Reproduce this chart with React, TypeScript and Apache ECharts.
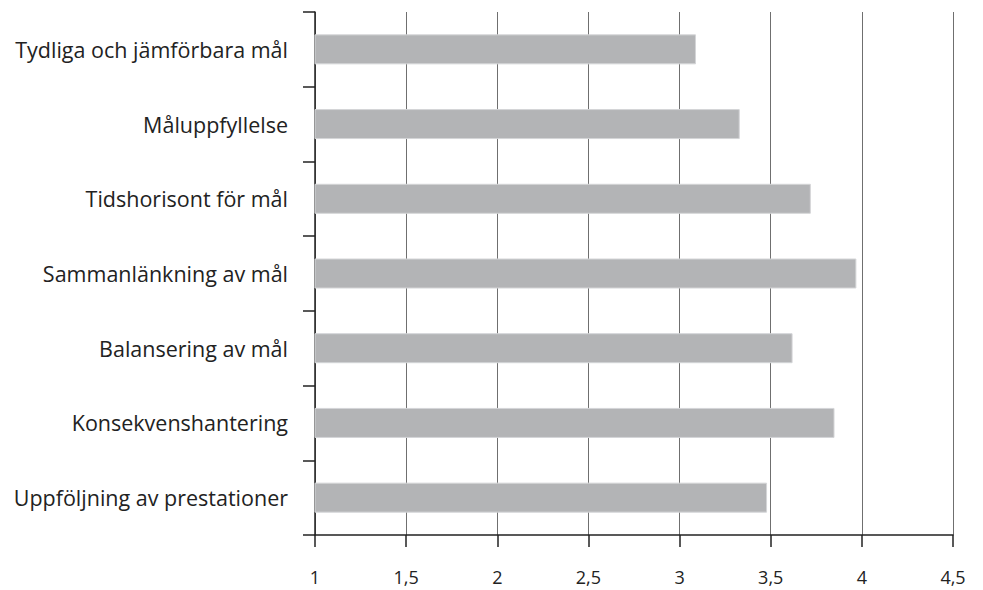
import React, { useEffect, useRef } from "react";
import * as echarts from "echarts";

const categories = [
  "Tydliga och jämförbara mål",
  "Måluppfyllelse",
  "Tidshorisont för mål",
  "Sammanlänkning av mål",
  "Balansering av mål",
  "Konsekvenshantering",
  "Uppföljning av prestationer",
];
const values = [3.09, 3.33, 3.72, 3.97, 3.62, 3.85, 3.48];
const xMin = 1;
const xMax = 4.5;
const xStep = 0.5;

export default function App() {
  const ref = useRef<HTMLDivElement>(null);
  useEffect(() => {
    if (!ref.current) return;
    const chart = echarts.init(ref.current, undefined, { renderer: "svg" });
    chart.setOption({
      animation: false,
      backgroundColor: "#ffffff",
      textStyle: { fontFamily: "'Open Sans', 'Noto Sans', sans-serif" },
      grid: { left: 315, right: 30, top: 12, bottom: 55, containLabel: false },
      xAxis: {
        type: "value",
        min: xMin,
        max: xMax,
        interval: xStep,
        axisLine: { show: true, lineStyle: { color: "#222", width: 1.5 } },
        axisTick: { show: true, length: 12, lineStyle: { color: "#222", width: 1.5 } },
        axisLabel: {
          margin: 33,
          fontSize: 18,
          color: "#222",
          formatter: (v: number) => String(v).replace(".", ","),
        },
        splitLine: { show: true, lineStyle: { color: "#6f6f6f", width: 1 } },
      },
      yAxis: {
        type: "category",
        inverse: true,
        data: categories,
        axisLine: { show: true, lineStyle: { color: "#222", width: 1.5 } },
        axisTick: { show: true, length: 12, lineStyle: { color: "#222", width: 1.5 } },
        axisLabel: { margin: 27, fontSize: 21.5, color: "#222" },
        splitLine: { show: false },
      },
      series: [
        {
          type: "bar",
          data: values,
          barWidth: 30,
          clip: true,
          itemStyle: { color: "#b3b4b6", borderColor: "#d4d5d7", borderWidth: 1 },
        },
      ],
    });
    return () => chart.dispose();
  }, []);
  return (
    <div
      ref={ref}
      style={{ position: "fixed", left: 0, top: 0, width: 983, height: 590 }}
    />
  );
}
